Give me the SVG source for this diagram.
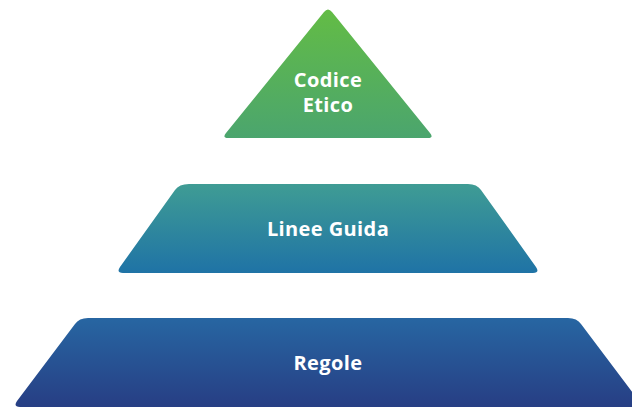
<svg xmlns="http://www.w3.org/2000/svg" width="632" height="408" viewBox="0 0 632 408">
<defs>
<linearGradient id="g1" x1="0" y1="0" x2="0" y2="1"><stop offset="0" stop-color="#63BC45"/><stop offset="1" stop-color="#4BA56E"/></linearGradient>
<linearGradient id="g2" x1="0" y1="0" x2="0" y2="1"><stop offset="0" stop-color="#3F9C94"/><stop offset="1" stop-color="#1F73A6"/></linearGradient>
<linearGradient id="g3" x1="0" y1="0" x2="0" y2="1"><stop offset="0" stop-color="#2766A2"/><stop offset="1" stop-color="#273E84"/></linearGradient>
<style>
.t{font-family:"Open Sans","Liberation Sans",sans-serif;font-weight:bold;font-size:20px;letter-spacing:0.4px;fill:#fff;text-anchor:middle}
</style>
</defs>
<g id="codice-etico">
<path d="M228,138 Q222,138 226,133 L324,12 Q328,7 332,12 L430,133 Q434,138 428,138 Z" fill="url(#g1)"/>
<text class="t" x="328" y="87">Codice</text>
<text class="t" x="328" y="112">Etico</text>
</g>
<g id="linee-guida">
<path d="M189,184 L468,184 Q477,184 481,190 L536,267 Q540,273 533,273 L123,273 Q116,273 120,267 L175,190 Q179,184 189,184 Z" fill="url(#g2)"/>
<text class="t" x="328" y="236">Linee Guida</text>
</g>
<g id="regole">
<path d="M88,318 L568,318 Q577,318 581,324 L639,401 Q643,407 636,407 L20,407 Q13,407 17,401 L75,324 Q79,318 88,318 Z" fill="url(#g3)"/>
<text class="t" x="328" y="370">Regole</text>
</g>
<g id="connectors"/>
</svg>
